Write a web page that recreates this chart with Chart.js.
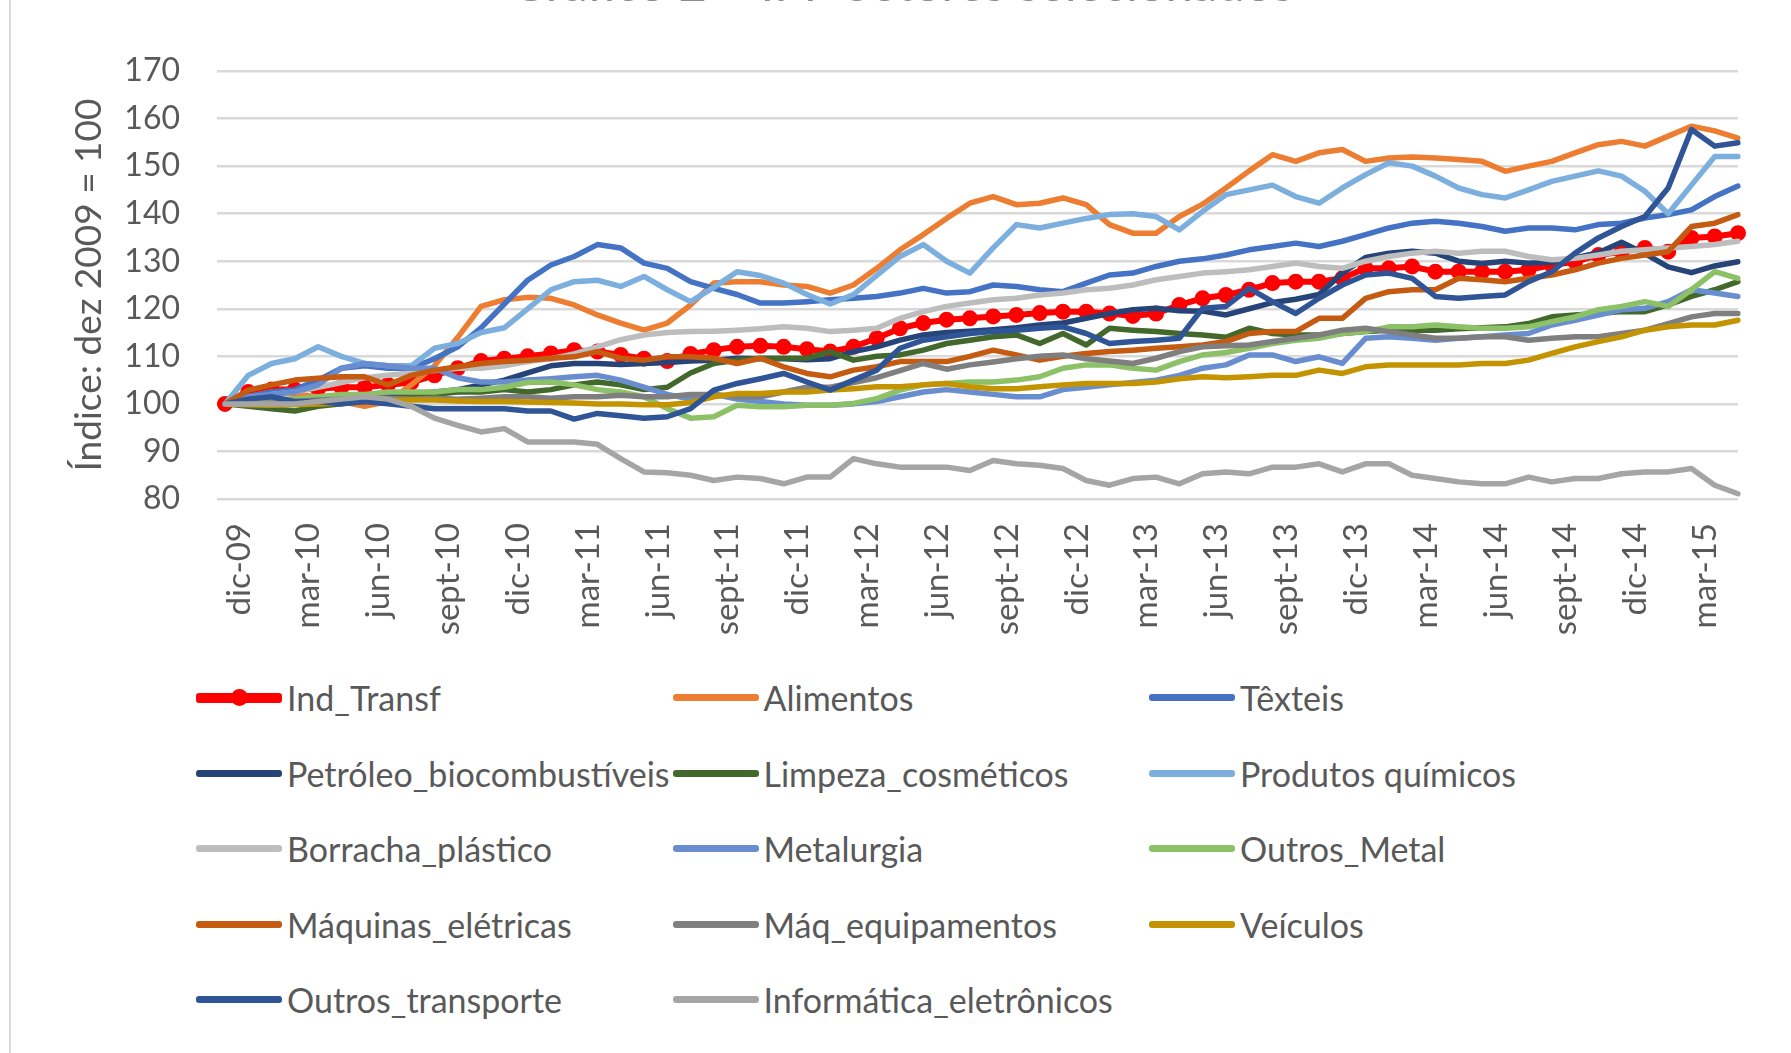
<!DOCTYPE html>
<html>
<head>
<meta charset="utf-8">
<script src="https://cdn.jsdelivr.net/npm/chart.js@4.4.0/dist/chart.umd.min.js"></script>
<style>
  html, body { margin: 0; padding: 0; background: #fff; overflow: hidden; }
  body { width: 1791px; height: 1053px; position: relative; font-family: Lato, "Open Sans", sans-serif; }
  #frame { position: absolute; left: 9px; top: 0; width: 2px; height: 1053px; background: #d9d9d9; }
  #title { position: absolute; left: 0; top: -42px; width: 1804px; text-align: center; font-size: 49px; line-height: 49px; color: #8c8c8c; white-space: nowrap; }
  #wrap { position: absolute; left: 0; top: 0; width: 1791px; height: 640px; }
  #legend { position: absolute; left: 196px; top: 660px; display: grid; grid-template-columns: 476.5px 476.5px 476.5px; grid-auto-rows: 75.5px; }
  .item { display: flex; align-items: center; font-size: 34px; color: #595959; white-space: nowrap; }
  .sw { flex: none; width: 86px; height: 7px; border-radius: 3px; margin-right: 5px; position: relative; }
  .sw .dot { position: absolute; left: 35px; top: -4px; width: 17px; height: 17px; border-radius: 50%; }
</style>
</head>
<body>
<div id="frame"></div>
<div id="title">Gráfico 2 – IPP Setores selecionados</div>
<div id="wrap"><canvas id="chart"></canvas></div>
<div id="legend"></div>
<script>
const meses = [
  'dic-09',
  'ene-10','feb-10','mar-10','abr-10','may-10','jun-10','jul-10','ago-10','sept-10','oct-10','nov-10','dic-10',
  'ene-11','feb-11','mar-11','abr-11','may-11','jun-11','jul-11','ago-11','sept-11','oct-11','nov-11','dic-11',
  'ene-12','feb-12','mar-12','abr-12','may-12','jun-12','jul-12','ago-12','sept-12','oct-12','nov-12','dic-12',
  'ene-13','feb-13','mar-13','abr-13','may-13','jun-13','jul-13','ago-13','sept-13','oct-13','nov-13','dic-13',
  'ene-14','feb-14','mar-14','abr-14','may-14','jun-14','jul-14','ago-14','sept-14','oct-14','nov-14','dic-14',
  'ene-15','feb-15','mar-15','abr-15','may-15'
];

const indTransf = [100,102.5,103,103,103.2,103.5,103.5,104,104.5,106,107.5,
  109,109.5,110,110.6,111.3,111,110.3,109.5,109,110.5,
  111.3,112,112.2,112,111.5,111,112,113.8,115.9,117,
  117.7,118,118.4,118.7,119.1,119.4,119.4,119,118.5,119,
  120.8,122.2,122.9,124,125.4,125.7,125.7,126.4,128.5,128.5,
  128.9,127.8,127.8,127.8,127.8,128.2,129.2,129.9,131.3,132,
  132.8,132,134.9,135.2,135.9];
const alimentos = [100,101.5,102.5,102,101.5,100.5,99.5,100.5,104,108,114,
  120.5,121.9,122.4,122.2,120.8,118.7,117,115.5,117,120.8,
  125.4,125.7,125.7,125,124.7,123.3,125,128.5,132.4,135.6,
  139,142.2,143.6,141.9,142.2,143.3,141.9,137.7,135.9,135.9,
  139.4,142,145.4,149,152.4,151,152.8,153.5,151,151.7,
  151.9,151.7,151.4,151,148.9,150,151,152.8,154.5,155.2,
  154.2,156.3,158.4,157.4,155.9];
const texteis = [100,101.5,102.5,103,105,107.5,108,107.5,107.5,109.5,112,
  116,121,126,129.2,131,133.5,132.8,129.6,128.5,125.7,
  124.3,123,121.2,121.2,121.5,121.9,122.2,122.6,123.3,124.3,
  123.3,123.6,125,124.7,124,123.6,125.4,127.1,127.5,128.9,
  130,130.5,131.3,132.4,133.1,133.8,133.1,134.2,135.6,137,
  138,138.4,138,137.3,136.3,137,137,136.6,137.7,138,
  139.1,139.8,140.8,143.6,145.8];
const petroleo = [100,100.5,101,100.5,100.5,101,101,101.5,102,102.5,103,
  104,105,106.5,108,108.5,108.5,108.3,108.5,108.7,109,
  109.2,109.6,109.5,109.5,109.3,109.5,111,112,113.4,114.5,
  115,115.3,115.6,116,116.6,117,118,119,119.8,120.1,
  119.6,119.5,118.7,120,121.3,122,123,127.5,130.8,131.7,
  132.1,131.7,130,129.5,130,129.6,129.8,130.7,131.8,134,
  131.6,128.8,127.6,129,129.9];
const limpeza = [100,99.5,99,98.5,99.5,100,100.5,101,101.5,102,102.5,
  102.5,103,102.5,103,104,104.6,104,103,103.5,106.5,
  108.5,109.2,109.6,109.6,109.6,111,109.2,110,110.3,111.3,
  112.7,113.4,114.1,114.5,112.7,114.8,112.4,115.9,115.5,115.2,
  114.8,114.5,114,115.9,114.8,114.5,114.5,114.8,115.2,115.5,
  115.5,115.5,115.8,116,116.2,116.9,118.3,118.7,119,119.4,
  119.4,120.8,122.6,124,125.7];
const quimicos = [100,106,108.5,109.5,112,110,108.5,108,108,111.7,112.7,
  115,116,120,124,125.7,126,124.7,126.8,124,121.5,
  124.5,127.8,127,125.4,123,121,123,127,131,133.5,
  130,127.5,132.8,137.7,137,138,139,139.8,140,139.4,
  136.6,140.5,144,145,146,143.6,142.2,145.4,148.2,150.7,
  150,147.9,145.4,144,143.3,145,146.8,147.9,149,147.9,
  144.7,140,146,152,152];
const borracha = [100,101,102,102.5,103.5,104.5,105.5,106,106.5,107,107.5,
  107.5,108,108.9,109.5,110.5,112,113.5,114.5,115,115.2,
  115.3,115.5,115.8,116.2,115.9,115.2,115.5,115.9,118,119.4,
  120.5,121.2,121.9,122.2,122.9,123.3,124,124.3,125,126.1,
  126.8,127.5,127.8,128.2,128.9,129.6,128.9,128.5,130,131,
  131.7,132.1,131.7,132.1,132.1,131,130.3,130.6,131.3,132.1,
  132.4,132.8,133.1,133.5,134.2];
const metalurgia = [100,101.5,102,102.5,104,107.5,108.5,108,107.5,107.5,105.5,
  104.6,104.6,105,105.3,105.7,106,105,103.5,102,101,
  102,101,100.5,100,99.7,99.7,100,100.5,101.5,102.5,
  103,102.5,102,101.5,101.5,103,103.5,104,104.5,105,
  106,107.5,108.2,110.3,110.3,108.9,109.9,108.5,113.8,114.1,
  113.8,113.4,113.8,114.1,114.5,114.8,116.6,117.6,118.7,119.8,
  120.1,121.5,124,123.3,122.6];
const outrosMetal = [100,100.5,101,101,101.5,102,102,102.5,102.5,102.5,103,
  103,103.5,104.5,104.6,104,103,102.5,101.5,99,97,
  97.3,99.7,99.4,99.4,99.7,99.7,100.1,101.1,102.9,104,
  104.3,104.6,104.6,105,105.7,107.5,108.2,108.2,107.5,107.1,
  108.9,110.3,110.8,111.7,112.7,113.4,113.8,114.8,115.2,116.2,
  116.2,116.6,116.2,115.9,115.9,116.2,117.3,118.3,119.8,120.5,
  121.5,120.5,124,127.8,126.4];
const maqEletricas = [100,102.9,104,105,105.4,105.7,105.7,104,106,107.1,107.8,
  108.5,108.9,109.2,109.6,109.9,111,109.6,109.2,109.9,109.9,
  109.6,108.5,109.6,107.8,106.4,105.7,107.1,107.8,108.9,108.9,
  108.9,110,111.3,110.3,109.2,110,110.6,111,111.3,111.7,
  112,112.4,113.1,114.8,115.2,115.2,118,118,122.2,123.6,
  124,124,126.4,126.1,125.7,126.4,127.1,128.2,129.6,130.6,
  131.3,132,137.3,138,139.8];
const maqEquip = [100,100,100.2,100.5,100.8,101,101.2,101.2,101,101.2,101,
  101.2,101.5,101.5,101.2,101.5,101.5,101.8,101.5,101.5,102,
  102,101.5,101.5,102.5,103.5,103.5,104.5,105.5,107,108.5,
  107.3,108.2,108.8,109.5,110,110.3,109.5,109,108.5,109.6,
  111,112,112.2,112.4,113.1,113.8,114.5,115.5,115.9,115.2,
  114.5,113.8,113.8,114.1,114.1,113.4,113.8,114.1,114.1,114.8,
  115.5,116.9,118.3,119,119];
const veiculos = [100,99.8,99.7,99.8,100,100.2,100.5,100.7,100.8,100.8,100.6,
  100.5,100.5,100.4,100.3,100.2,100,100,99.8,99.8,100.3,
  101.5,102.2,102.2,102.5,102.5,102.9,103.2,103.6,103.6,104,
  104.3,103.6,103.2,103.2,103.6,104,104.3,104.3,104.3,104.6,
  105.3,105.7,105.5,105.7,106,106,107.1,106.4,107.8,108.2,
  108.2,108.2,108.2,108.5,108.5,109.2,110.6,112,113.1,114.1,
  115.5,116.2,116.6,116.6,117.6];
const outrosTransp = [100,101,101.5,100.5,100.5,100,100.5,100,99.5,99,99,
  99,99,98.5,98.5,96.8,98,97.5,97,97.3,99,
  102.9,104.3,105.3,106.4,104.6,102.9,105,107.1,111.7,113.4,
  114.1,114.8,115.2,115.5,115.9,116.2,114.8,112.7,113.1,113.4,
  113.8,120.1,120.5,124.3,121.5,119,122.2,125,127.1,127.5,
  126.4,122.6,122.2,122.6,122.9,125.7,127.8,131.7,134.9,137.3,
  139.4,145.4,157.7,154.2,154.9];
const informatica = [100,100,100,100,100.5,101,101.5,101,99.5,97,95.5,
  94.1,94.8,92,92,92,91.5,88.5,85.7,85.5,85,
  83.9,84.6,84.3,83.2,84.6,84.6,88.5,87.4,86.7,86.7,
  86.7,86,88.1,87.4,87.1,86.4,83.9,82.9,84.3,84.6,
  83.2,85.3,85.7,85.3,86.7,86.7,87.4,85.7,87.4,87.4,
  85,84.3,83.6,83.2,83.2,84.6,83.6,84.3,84.3,85.3,
  85.7,85.7,86.4,82.9,81.1];

const series = [
  ['Ind_Transf', indTransf, '#FF0000'],
  ['Alimentos', alimentos, '#ED7D31'],
  ['Têxteis', texteis, '#4472C4'],
  ['Petróleo_biocombustíveis', petroleo, '#264478'],
  ['Limpeza_cosméticos', limpeza, '#43682B'],
  ['Produtos químicos', quimicos, '#7CAFDD'],
  ['Borracha_plástico', borracha, '#BDBDBD'],
  ['Metalurgia', metalurgia, '#698ED0'],
  ['Outros_Metal', outrosMetal, '#8CC168'],
  ['Máquinas_elétricas', maqEletricas, '#C55A11'],
  ['Máq_equipamentos', maqEquip, '#7F7F7F'],
  ['Veículos', veiculos, '#C49400'],
  ['Outros_transporte', outrosTransp, '#2F5597'],
  ['Informática_eletrônicos', informatica, '#A5A5A5']
];

const fonte = 'Lato, "Open Sans", sans-serif';
const cinza = '#595959';

const datasets = series.map(function (s, i) {
  const first = i === 0;
  return {
    label: s[0],
    data: s[1],
    borderColor: s[2],
    backgroundColor: s[2],
    borderWidth: first ? 6 : 5.5,
    borderJoinStyle: 'round',
    borderCapStyle: 'round',
    pointRadius: first ? 7 : 0,
    pointBorderWidth: first ? 2 : 0,
    pointBackgroundColor: s[2],
    pointBorderColor: s[2],
    tension: 0,
    // excel draws the first series at the bottom
    order: series.length - 1 - i
  };
});

const ctx = document.getElementById('chart');
const graph = new Chart(ctx, {
  type: 'line',
  data: { labels: meses, datasets: datasets },
  options: {
    responsive: true,
    maintainAspectRatio: false,
    animation: false,
    layout: { padding: { left: 0, right: 53, top: 71, bottom: 0 } },
    plugins: {
      legend: { display: false },
      tooltip: { enabled: false },
      title: { display: false }
    },
    scales: {
      x: {
        grid: { display: false },
        border: { display: false },
        ticks: {
          autoSkip: false,
          maxRotation: 90,
          minRotation: 90,
          padding: 16,
          labelOffset: 14,
          color: cinza,
          font: { family: fonte, size: 33 },
          callback: function (value, index) {
            return index % 3 === 0 ? this.getLabelForValue(value) : '';
          }
        },
        afterFit: function (scale) {
          scale.height = 141;
          scale.paddingLeft = 0;
          scale.paddingRight = 0;
        }
      },
      y: {
        min: 80,
        max: 170,
        border: { display: false },
        grid: { color: '#D9D9D9', lineWidth: 2.5, drawTicks: true, tickLength: 8 },
        ticks: {
          stepSize: 10,
          padding: 37,
          color: cinza,
          font: { family: fonte, size: 32 }
        },
        title: {
          display: true,
          text: 'Índice: dez 2009 = 100',
          color: cinza,
          font: { family: fonte, size: 37 },
          padding: { top: 67, bottom: 0 }
        },
        afterFit: function (scale) { scale.width = 225; }
      }
    }
  }
});

// legend in three columns, like the excel one
const legendBox = document.getElementById('legend');
graph.data.datasets.forEach(function (ds, i) {
  const item = document.createElement('div');
  item.className = 'item';
  const sw = document.createElement('span');
  sw.className = 'sw';
  sw.style.background = ds.borderColor;
  if (i === 0) {
    sw.style.height = '10px';
    const dot = document.createElement('span');
    dot.className = 'dot';
    dot.style.background = ds.borderColor;
    sw.appendChild(dot);
  }
  const txt = document.createElement('span');
  txt.textContent = ds.label;
  item.appendChild(sw);
  item.appendChild(txt);
  legendBox.appendChild(item);
});
</script>
</body>
</html>
